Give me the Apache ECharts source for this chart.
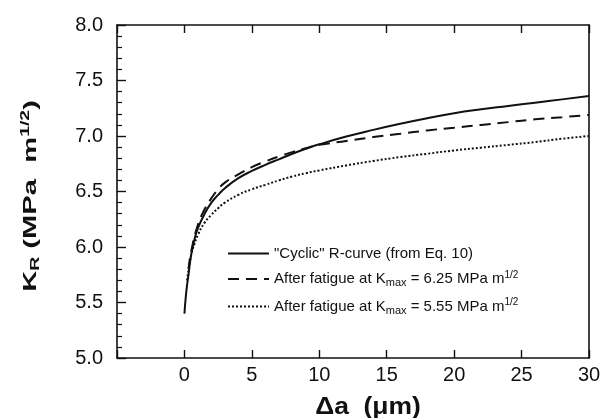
<!DOCTYPE html>
<html>
<head>
<meta charset="utf-8">
<script src="https://cdn.jsdelivr.net/npm/echarts@6/dist/echarts.min.js"></script>
<style>
  html, body { margin: 0; padding: 0; background: #fff; }
  #chart { width: 607px; height: 418px; }
</style>
</head>
<body>
<div id="chart"></div>
<script>
// [delta a (um), K_R (MPa m^1/2)]
const cyclicCurve = [
  [0, 5.40], [0.1, 5.55], [0.2, 5.66], [0.3, 5.75], [0.5, 5.93], [0.75, 6.07],
  [1, 6.17], [1.5, 6.30], [2, 6.40], [2.5, 6.47], [3, 6.53], [4, 6.62],
  [5, 6.685], [6, 6.74], [7, 6.79], [8, 6.84], [9, 6.885], [10, 6.925],
  [12, 6.995], [14, 7.055], [16, 7.11], [18, 7.16], [20, 7.205], [22, 7.24],
  [24, 7.27], [26, 7.30], [28, 7.33], [30, 7.36]
]
const fatigue625 = [
  [0.3, 5.80], [0.5, 5.96], [1, 6.20], [1.5, 6.34], [2, 6.44], [2.5, 6.52],
  [3, 6.58], [4, 6.655], [5, 6.72], [6, 6.77], [7, 6.815], [8, 6.855],
  [9, 6.89], [10, 6.92], [12, 6.955], [14, 6.99], [16, 7.02], [18, 7.05],
  [20, 7.075], [22, 7.10], [24, 7.125], [26, 7.15], [28, 7.17], [30, 7.19]
]
const fatigue555 = [
  [0.2, 5.70], [0.5, 5.93], [0.75, 6.03], [1, 6.11], [1.5, 6.22], [2, 6.29],
  [2.5, 6.35], [3, 6.40], [4, 6.47], [5, 6.52], [6, 6.56], [7, 6.60],
  [8, 6.635], [9, 6.665], [10, 6.69], [12, 6.735], [14, 6.775], [16, 6.81],
  [18, 6.84], [20, 6.87], [22, 6.895], [24, 6.92], [26, 6.945], [28, 6.975], [30, 7.00]
]

const seriesNames = ['cyclic', 'f625', 'f555']
const legendLabels = {
  cyclic: '"Cyclic" R-curve (from Eq. 10)',
  f625: 'After fatigue at K{sub|max} = 6.25 MPa m{sup|1/2}',
  f555: 'After fatigue at K{sub|max} = 5.55 MPa m{sup|1/2}'
}
const xTitle = '\u0394a  (\u03bcm)'
const yTitle = '{b|K}{s|R}{b| (MPa  m}{p|1/2}{b|)}'

const FONT = '"Liberation Sans", Arial, sans-serif'
const INK = '#111'

const chart = echarts.init(document.getElementById('chart'))

const axisLine = { show: true, onZero: false, lineStyle: { color: INK, width: 1.6 } }

chart.setOption({
  backgroundColor: '#fff',
  animation: false,
  grid: { left: 117, right: 18, top: 25, bottom: 60 },

  legend: {
    data: seriesNames,
    orient: 'vertical',
    left: 227,
    top: 246,
    padding: 0,
    itemWidth: 41,
    itemHeight: 10,
    itemGap: 9,
    itemStyle: { opacity: 0 },
    formatter: name => legendLabels[name],
    textStyle: {
      fontFamily: FONT,
      fontSize: 15,
      color: INK,
      rich: {
        sub: { fontFamily: FONT, fontSize: 11, color: INK, padding: [8, 0, 0, 0] },
        sup: { fontFamily: FONT, fontSize: 10, color: INK, padding: [0, 0, 8, 0] }
      }
    }
  },

  graphic: [
    {
      type: 'text',
      x: 31,
      y: 196,
      rotation: Math.PI / 2,
      scaleX: 1.62,
      style: {
        text: yTitle,
        align: 'center',
        verticalAlign: 'middle',
        fill: INK,
        rich: {
          b: { fontFamily: FONT, fontSize: 18, fontWeight: 'bold', fill: INK },
          s: { fontFamily: FONT, fontSize: 12, fontWeight: 'bold', fill: INK, padding: [9, 0, 0, 0] },
          p: { fontFamily: FONT, fontSize: 12, fontWeight: 'bold', fill: INK, padding: [0, 0, 10, 0] }
        }
      }
    },
    {
      type: 'text',
      x: 368,
      y: 408,
      scaleX: 1.15,
      style: {
        text: xTitle,
        align: 'center',
        verticalAlign: 'middle',
        fill: INK,
        fontFamily: FONT,
        fontSize: 23,
        fontWeight: 'bold'
      }
    }
  ],

  xAxis: [
    {
      type: 'value',
      min: -5,
      max: 30,
      interval: 5,
      position: 'bottom',
      axisLine,
      axisTick: { show: true, inside: true, length: 8, lineStyle: { color: INK, width: 1.4 } },
      axisLabel: {
        color: INK,
        fontFamily: FONT,
        fontSize: 20,
        margin: 7,
        formatter: v => (v < 0 ? '' : String(v))
      },
      splitLine: { show: false }
    },
    {
      type: 'value',
      min: -5,
      max: 30,
      interval: 5,
      position: 'top',
      axisLine,
      axisTick: { show: true, inside: true, length: 8, lineStyle: { color: INK, width: 1.4 } },
      axisLabel: { show: false },
      splitLine: { show: false }
    }
  ],

  yAxis: [
    {
      type: 'value',
      min: 5,
      max: 8,
      interval: 0.5,
      position: 'left',
      axisLine,
      axisTick: { show: true, inside: true, length: 9, lineStyle: { color: INK, width: 1.4 } },
      minorTick: { show: true, splitNumber: 5, length: 5, lineStyle: { color: INK, width: 1.2 } },
      axisLabel: {
        color: INK,
        fontFamily: FONT,
        fontSize: 20,
        margin: 14,
        formatter: v => v.toFixed(1)
      },
      splitLine: { show: false }
    },
    {
      type: 'value',
      min: 5,
      max: 8,
      interval: 0.5,
      position: 'right',
      axisLine,
      axisTick: { show: false },
      axisLabel: { show: false },
      splitLine: { show: false }
    }
  ],

  series: [
    {
      name: 'cyclic',
      type: 'line',
      data: cyclicCurve,
      smooth: true,
      showSymbol: false,
      symbol: 'none',
      itemStyle: { color: INK },
      lineStyle: { color: INK, width: 2, type: 'solid' }
    },
    {
      name: 'f625',
      type: 'line',
      data: fatigue625,
      smooth: true,
      showSymbol: false,
      symbol: 'none',
      itemStyle: { color: INK },
      lineStyle: { color: INK, width: 2, type: [11, 7] }
    },
    {
      name: 'f555',
      type: 'line',
      data: fatigue555,
      smooth: true,
      showSymbol: false,
      symbol: 'none',
      itemStyle: { color: INK },
      lineStyle: { color: INK, width: 2, type: [2, 2] }
    }
  ]
})
</script>
</body>
</html>
